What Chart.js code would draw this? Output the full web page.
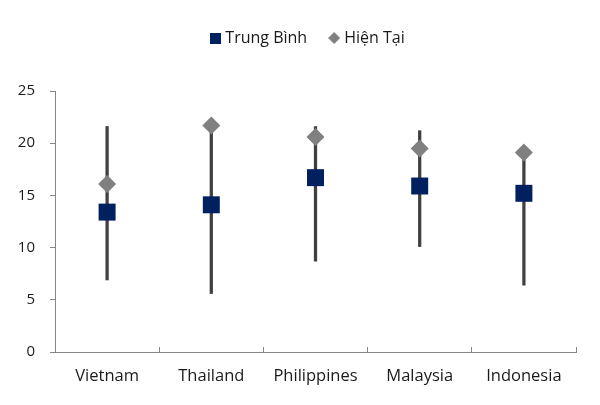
<!DOCTYPE html>
<html>
<head>
<meta charset="utf-8">
<script src="https://cdn.jsdelivr.net/npm/chart.js@4.4.1/dist/chart.umd.min.js"></script>
<style>
  html, body { margin: 0; padding: 0; background: #ffffff; }
  #wrap { width: 600px; height: 405px; }
</style>
</head>
<body>
<div id="wrap"><canvas id="c" width="600" height="405"></canvas></div>
<script>
const categories = ['Vietnam', 'Thailand', 'Philippines', 'Malaysia', 'Indonesia'];
const averageValues = [13.4, 14.1, 16.7, 15.9, 15.2];
const currentValues = [16.1, 21.7, 20.6, 19.5, 19.1];
const rangeLow = [6.9, 5.6, 8.7, 10.1, 6.4];
const rangeHigh = [21.6, 21.7, 21.6, 21.2, 19.1];
const yTicks = [0, 5, 10, 15, 20, 25];
const seriesNames = ['Trung Bình', 'Hiện Tại'];

const NAVY = '#002060';
const GRAY = '#808080';
const WHISKER = '#404040';
const AXIS = '#868686';
const FONT = "'Open Sans', 'Noto Sans', sans-serif";

function makeIcon(kind) {
  const c = document.createElement('canvas');
  const s = kind === 'square' ? 11 : 12;
  c.width = s; c.height = s;
  const g = c.getContext('2d');
  if (kind === 'square') {
    g.fillStyle = NAVY;
    g.fillRect(0, 0, s, s);
  } else {
    g.fillStyle = GRAY;
    g.beginPath();
    g.moveTo(s / 2, 0); g.lineTo(s, s / 2); g.lineTo(s / 2, s); g.lineTo(0, s / 2);
    g.closePath(); g.fill();
  }
  return c;
}
const icons = [makeIcon('square'), makeIcon('diamond')];

const legendMargin = {
  id: 'legendMargin',
  beforeInit(chart) {
    const origFit = chart.legend.fit;
    chart.legend.fit = function () {
      origFit.bind(chart.legend)();
      this.height = 86;
    };
  },
  afterLayout(chart) {
    chart.legend.left += 21;
    chart.legend.right += 21;
  }
};

new Chart(document.getElementById('c'), {
  data: {
    labels: categories,
    datasets: [
      {
        type: 'line',
        label: seriesNames[0],
        data: averageValues,
        showLine: false,
        pointStyle: 'rect',
        pointRadius: 12,
        pointHoverRadius: 12,
        backgroundColor: NAVY,
        borderColor: NAVY,
        pointBorderWidth: 0,
        order: 1
      },
      {
        type: 'line',
        label: seriesNames[1],
        data: currentValues,
        showLine: false,
        pointStyle: 'rectRot',
        pointRadius: 9,
        pointHoverRadius: 9,
        backgroundColor: GRAY,
        borderColor: GRAY,
        pointBorderWidth: 0,
        order: 2
      },
      {
        type: 'bar',
        label: 'range',
        data: rangeLow.map((v, i) => [v, rangeHigh[i]]),
        backgroundColor: WHISKER,
        borderWidth: 0,
        barThickness: 2.6,
        order: 10
      }
    ]
  },
  plugins: [legendMargin],
  options: {
    responsive: false,
    devicePixelRatio: 1,
    animation: false,
    layout: { padding: { left: 0, right: 24, top: 5, bottom: 0 } },
    plugins: {
      tooltip: { enabled: false },
      legend: {
        display: true,
        position: 'top',
        labels: {
          usePointStyle: true,
          boxWidth: 4,
          boxHeight: 12,
          padding: 25,
          color: '#1a1a1a',
          font: { family: FONT, size: 16 },
          generateLabels: function (chart) {
            return [0, 1].map(i => ({
              text: seriesNames[i],
              fillStyle: i === 0 ? NAVY : GRAY,
              strokeStyle: i === 0 ? NAVY : GRAY,
              lineWidth: 0,
              hidden: false,
              datasetIndex: i,
              pointStyle: icons[i],
              fontColor: '#1a1a1a'
            }));
          }
        }
      }
    },
    scales: {
      x: {
        type: 'category',
        offset: true,
        afterFit(scale) { scale.height = 53; },
        grid: {
          display: true,
          offset: true,
          drawOnChartArea: false,
          drawTicks: true,
          tickLength: -5,
          color: AXIS
        },
        border: { display: true, color: AXIS, width: 1 },
        ticks: {
          padding: 19,
          color: '#1a1a1a',
          font: { family: FONT, size: 16.5 },
          maxRotation: 0
        }
      },
      y: {
        type: 'linear',
        min: 0,
        max: 25,
        afterFit(scale) { scale.width = 55; },
        afterBuildTicks(scale) { scale.ticks = yTicks.map(v => ({ value: v })); },
        grid: {
          display: true,
          drawOnChartArea: false,
          drawTicks: true,
          tickLength: 5,
          color: AXIS
        },
        border: { display: true, color: AXIS, width: 1 },
        ticks: {
          padding: 15,
          color: '#1a1a1a',
          font: { family: FONT, size: 15 }
        }
      }
    }
  }
});
</script>
</body>
</html>
